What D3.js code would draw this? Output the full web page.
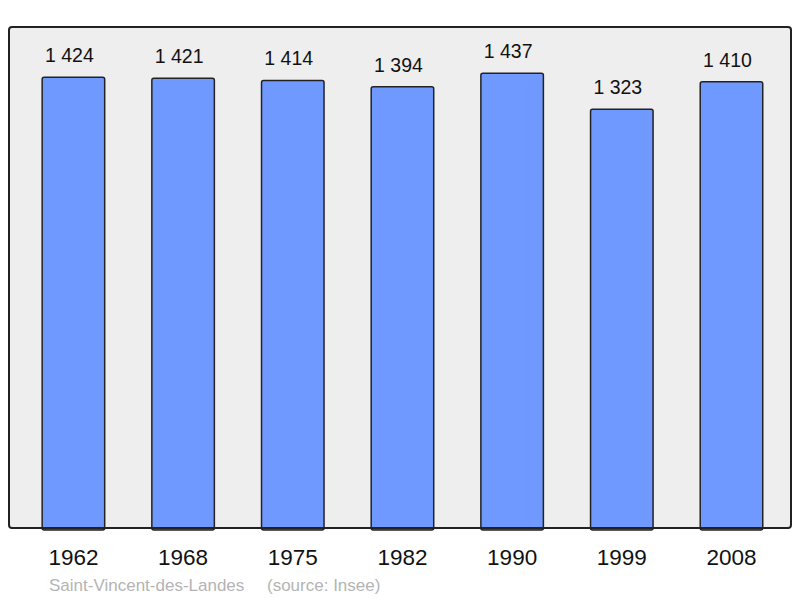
<!DOCTYPE html>
<html>
<head>
<meta charset="utf-8">
<script src="https://cdn.jsdelivr.net/npm/d3@7"></script>
<style>
  body { margin: 0; background: #fff; }
  svg { display: block; }
</style>
</head>
<body>
<div id="chart"></div>
<script>
// data
const years = ["1962", "1968", "1975", "1982", "1990", "1999", "2008"];
const population = [1424, 1421, 1414, 1394, 1437, 1323, 1410];
const valueLabels = ["1 424", "1 421", "1 414", "1 394", "1 437", "1 323", "1 410"];
const commune = "Saint-Vincent-des-Landes";
const source = "(source: Insee)";

const width = 800, height = 598;
const panel = { left: 9, top: 27, right: 791, bottom: 528 };

const svg = d3.select("#chart")
  .append("svg")
  .attr("width", width)
  .attr("height", height);

// background panel
svg.append("rect")
  .attr("x", panel.left)
  .attr("y", panel.top)
  .attr("width", panel.right - panel.left)
  .attr("height", panel.bottom - panel.top)
  .attr("rx", 3)
  .attr("fill", "#eeeeee")
  .attr("stroke", "#222")
  .attr("stroke-width", 2);

const x = d3.scaleBand()
  .domain(years)
  .range([panel.left, panel.right])
  .paddingInner(0.43)
  .paddingOuter(0.28)
  .align(0.54);

const y = d3.scaleLinear()
  .domain([0, 1583])
  .range([panel.bottom, panel.top]);

// bars
svg.selectAll("rect.bar")
  .data(population)
  .enter()
  .append("rect")
  .attr("class", "bar")
  .attr("x", (d, i) => x(years[i]))
  .attr("y", d => y(d))
  .attr("width", x.bandwidth())
  .attr("height", d => panel.bottom - y(d) + 2)
  .attr("rx", 2)
  .attr("fill", "#7099ff")
  .attr("stroke", "#222")
  .attr("stroke-width", 1.5);

// redraw bottom border over bar bottoms
svg.append("line")
  .attr("x1", panel.left + 2)
  .attr("x2", panel.right - 2)
  .attr("y1", panel.bottom)
  .attr("y2", panel.bottom)
  .attr("stroke", "#222")
  .attr("stroke-width", 2);

// value labels
svg.selectAll("text.value")
  .data(population)
  .enter()
  .append("text")
  .attr("class", "value")
  .attr("x", (d, i) => x(years[i]) + x.bandwidth() / 2 - 4)
  .attr("y", d => y(d) - 15)
  .attr("text-anchor", "middle")
  .attr("font-family", "Liberation Sans, Arial, sans-serif")
  .attr("font-size", 19.5)
  .attr("fill", "#111")
  .text((d, i) => valueLabels[i]);

// x axis labels
const xAxis = d3.axisBottom(x).tickSize(0).tickPadding(0);
const gx = svg.append("g")
  .attr("transform", `translate(0,${panel.bottom})`)
  .call(xAxis);
gx.select(".domain").remove();
gx.selectAll("text")
  .attr("y", 37)
  .attr("dy", 0)
  .attr("font-family", "Liberation Sans, Arial, sans-serif")
  .attr("font-size", 22.5)
  .attr("fill", "#111");

// footer
svg.append("text")
  .attr("x", 49)
  .attr("y", 590.5)
  .attr("font-family", "Liberation Sans, Arial, sans-serif")
  .attr("font-size", 17)
  .attr("fill", "#b4b4b4")
  .text(commune);

svg.append("text")
  .attr("x", 267)
  .attr("y", 590.5)
  .attr("font-family", "Liberation Sans, Arial, sans-serif")
  .attr("font-size", 17)
  .attr("fill", "#b4b4b4")
  .text(source);
</script>
</body>
</html>
